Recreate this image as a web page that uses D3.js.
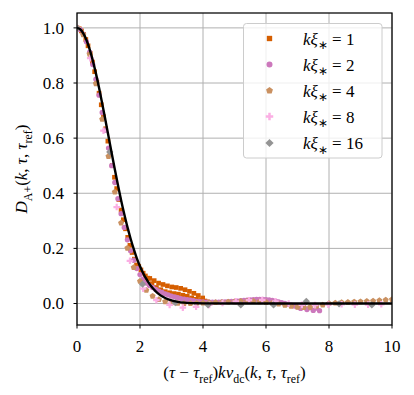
<!DOCTYPE html>
<html><head><meta charset="utf-8">
<script src="https://cdn.jsdelivr.net/npm/d3@7"></script>
<style>body{margin:0;background:#fff}svg{display:block}</style>
</head><body>
<script>
// ---------- data ----------
const xTicks = [0, 2, 4, 6, 8, 10];
const yTicks = [0.0, 0.2, 0.4, 0.6, 0.8, 1.0];
const seriesLabels = ["1", "2", "4", "8", "16"];
const seriesColors = ["#d55e00", "#cc78bc", "#ca9161", "#fbafe4", "#949494"];
const seriesSymbols = ["square", "circle", "pentagon", "plus", "diamond"];

// sampling step of each series along x
const seriesStep = [0.07, 0.1, 0.2, 0.42, 1.04];

const k1 = [1.000,0.997,0.989,0.976,0.958,0.935,0.907,0.876,0.841,0.803,0.763,0.721,0.678,0.634,0.589,0.545,0.501,0.458,0.417,0.377,
 0.339,0.304,0.271,0.240,0.211,0.185,0.161,0.140,0.135,0.122,0.110,0.100,0.092,0.091,0.072,0.083,0.058,0.074,0.050,0.069,
 0.043,0.064,0.039,0.060,0.036,0.058,0.034,0.055,0.030,0.050,0.026,0.044,0.020,0.037,0.015,0.029,0.011,0.020,0.009,0.006,0.004];
const k2 = [1.000,0.994,0.977,0.950,0.912,0.867,0.814,0.756,0.693,0.629,0.564,0.500,0.439,0.380,0.326,0.276,0.231,0.191,0.157,0.127,
 0.105,0.088,0.074,0.065,0.058,0.051,0.045,0.040,0.035,0.031,0.027,0.024,0.021,0.018,0.016,0.014,0.012,0.010,0.008,0.007,
 0.006,0.005,0.005,0.005,0.005,0.005,0.006,0.006,0.007,0.008,0.008,0.009,0.010,0.011,0.012,0.013,0.014,0.015,0.015,0.015,
 0.014,0.013,0.011,0.009,0.006,0.003,0.000,-0.003,-0.006,-0.009,-0.012,-0.018,-0.012,-0.022,-0.015,-0.025,-0.017,-0.026];
const k4 = [1.000,0.975,0.905,0.798,0.669,0.534,0.405,0.292,0.201,0.131,0.081,0.048,0.027,0.015,0.007,0.003,0.001,0.000,0.000,0.001,
 0.002,0.003,0.004,0.005,0.006,0.007,0.008,0.008,0.008,0.007,0.005,0.002,-0.002,-0.006,-0.010,-0.013,-0.014,-0.013,-0.010,-0.005,
 0.000,0.002,0.004,0.005,0.006,0.007,0.008,0.009,0.011,0.013,0.015];
const k8 = [1.000,0.890,0.627,0.350,0.155,0.054,0.012,-0.005,-0.015,-0.012,-0.005,0.002,0.008,0.012,0.013,0.008,0.000,-0.005,-0.006,-0.004,
 -0.003,-0.004,-0.004,-0.003];
const k16 = [1.000,0.550,0.070,0.003,-0.005,-0.005,-0.005,0.008,-0.001,-0.005];
const seriesValues = [k1, k2, k4, k8, k16];

// reference curve (black line)
const refX = [0,0.1,0.2,0.3,0.4,0.5,0.6,0.7,0.8,0.9,1.0,1.1,1.2,1.3,1.4,1.5,1.6,1.7,1.8,1.9,2.0,2.1,2.2,2.3,2.4,2.5,2.6,2.7,2.8,2.9,3.0,3.2,3.4,3.6,3.8,4.0,5,6,7,8,9,10];
const refY = [1,0.995,0.980,0.956,0.923,0.882,0.835,0.783,0.726,0.667,0.607,0.546,0.487,0.430,0.375,0.325,0.278,0.236,0.198,0.164,0.135,0.110,0.089,0.071,0.056,0.044,0.034,0.026,0.020,0.015,0.011,0.006,0.003,0.0015,0.0007,0.0003,0,0,0,0,0,0];

// ---------- layout ----------
const W = 414, H = 395;
const L = 77, R = 392, T = 13, B = 325;
const FS = 17;
const FONT = '"Liberation Serif"';

const svg = d3.select("body").append("svg").attr("width", W).attr("height", H);

const x = d3.scaleLinear().domain([0, 10]).range([L, R]);
const y = d3.scaleLinear().domain([-0.078, 1.054]).range([B, T]);

function txt(parent) {
  return parent.append("text").style("font-family", FONT).attr("font-size", FS).attr("fill", "#000");
}

// grid
const grid = svg.append("g");
grid.selectAll("line.gx").data(xTicks).enter().append("line")
  .attr("x1", d => x(d)).attr("x2", d => x(d)).attr("y1", T).attr("y2", B)
  .attr("stroke", "#b0b0b0").attr("stroke-width", 1);
grid.selectAll("line.gy").data(yTicks).enter().append("line")
  .attr("y1", d => y(d)).attr("y2", d => y(d)).attr("x1", L).attr("x2", R)
  .attr("stroke", "#b0b0b0").attr("stroke-width", 1);

// symbols
const pentagon = {
  draw(ctx, size) {
    const r = Math.sqrt(size / (2.5 * Math.sin(2 * Math.PI / 5)));
    for (let i = 0; i < 5; i++) {
      const a = -Math.PI / 2 + i * 2 * Math.PI / 5;
      const px = r * Math.cos(a), py = r * Math.sin(a);
      if (i === 0) ctx.moveTo(px, py); else ctx.lineTo(px, py);
    }
    ctx.closePath();
  }
};
const diamond = {
  draw(ctx, size) {
    const r = Math.sqrt(size / 2);
    ctx.moveTo(0, -r); ctx.lineTo(r, 0); ctx.lineTo(0, r); ctx.lineTo(-r, 0); ctx.closePath();
  }
};
const symMap = {
  square: [d3.symbolSquare, 22],
  circle: [d3.symbolCircle, 22],
  pentagon: [pentagon, 24],
  plus: [d3.symbolCross, 24],
  diamond: [diamond, 26]
};
function symPath(name, scale = 1) {
  const [t, s] = symMap[name];
  return d3.symbol().type(t).size(s * scale)();
}

// clip
svg.append("clipPath").attr("id", "clip").append("rect")
  .attr("x", L).attr("y", T).attr("width", R - L).attr("height", B - T);
const plot = svg.append("g").attr("clip-path", "url(#clip)");

seriesValues.forEach((vals, si) => {
  const pts = vals.map((v, i) => [i * seriesStep[si], v]);
  plot.append("g").selectAll("path").data(pts).enter().append("path")
    .attr("d", symPath(seriesSymbols[si]))
    .attr("transform", d => `translate(${x(d[0])},${y(d[1])})`)
    .attr("fill", seriesColors[si]);
});

// black line
const refPts = refX.map((v, i) => [v, refY[i]]);
plot.append("path").datum(refPts)
  .attr("d", d3.line().x(d => x(d[0])).y(d => y(d[1])).curve(d3.curveMonotoneX))
  .attr("fill", "none").attr("stroke", "#000").attr("stroke-width", 2.4);

// axes frame
svg.append("rect").attr("x", L).attr("y", T).attr("width", R - L).attr("height", B - T)
  .attr("fill", "none").attr("stroke", "#000").attr("stroke-width", 1.25);

// ticks
svg.append("g").selectAll("line").data(xTicks).enter().append("line")
  .attr("x1", d => x(d)).attr("x2", d => x(d)).attr("y1", B).attr("y2", B + 3.5)
  .attr("stroke", "#000").attr("stroke-width", 1);
const xtg = svg.append("g");
xTicks.forEach(d => txt(xtg).attr("x", x(d)).attr("y", 352).attr("text-anchor", "middle").text(d));
svg.append("g").selectAll("line").data(yTicks).enter().append("line")
  .attr("y1", d => y(d)).attr("y2", d => y(d)).attr("x1", L - 3.5).attr("x2", L)
  .attr("stroke", "#000").attr("stroke-width", 1);
const ytg = svg.append("g");
yTicks.forEach(d => txt(ytg).attr("x", 64).attr("y", y(d) + 5.8).attr("text-anchor", "end").text(d.toFixed(1)));

// rich text helper
function rich(textSel, parts, fs) {
  let shift = 0;
  parts.forEach(p => {
    const target = p.sub ? fs * 0.28 : 0;
    const ts = textSel.append("tspan").text(p.t)
      .attr("font-style", p.i ? "italic" : "normal")
      .attr("font-size", p.sub ? fs * 0.7 : fs);
    if (target !== shift) ts.attr("dy", target - shift);
    shift = target;
  });
}

// x label
rich(txt(svg).attr("x", (L + R) / 2).attr("y", 378).attr("text-anchor", "middle"),
  [{t:"("},{t:"τ",i:1},{t:" − "},{t:"τ",i:1},{t:"ref",sub:1},{t:")"},{t:"kv",i:1},{t:"dc",sub:1},
   {t:"("},{t:"k",i:1},{t:", "},{t:"τ",i:1},{t:", "},{t:"τ",i:1},{t:"ref",sub:1},{t:")"}], FS);

// y label
rich(txt(svg).attr("transform", `translate(27,${(T + B) / 2}) rotate(-90)`)
  .attr("text-anchor", "middle"),
  [{t:"D",i:1},{t:"A+",sub:1},{t:"("},{t:"k",i:1},{t:", "},{t:"τ",i:1},{t:", "},{t:"τ",i:1},{t:"ref",sub:1},{t:")"}], FS);

// legend
const lg = svg.append("g");
lg.append("rect").attr("x", 243.5).attr("y", 23.5).attr("width", 138.5).attr("height", 134.5)
  .attr("rx", 3).attr("fill", "#fff").attr("fill-opacity", 0.8)
  .attr("stroke", "#cccccc").attr("stroke-width", 1);
const rowY = [38.5, 64.5, 90.5, 116.5, 143];
seriesLabels.forEach((lab, i) => {
  lg.append("path").attr("d", symPath(seriesSymbols[i], 1.3))
    .attr("transform", `translate(269.5,${rowY[i]})`).attr("fill", seriesColors[i]);
  rich(txt(lg).attr("x", 303).attr("y", rowY[i] + 6),
    [{t:"kξ",i:1},{t:"∗",sub:1},{t:" = " + lab}], FS);
});
</script>
</body></html>
